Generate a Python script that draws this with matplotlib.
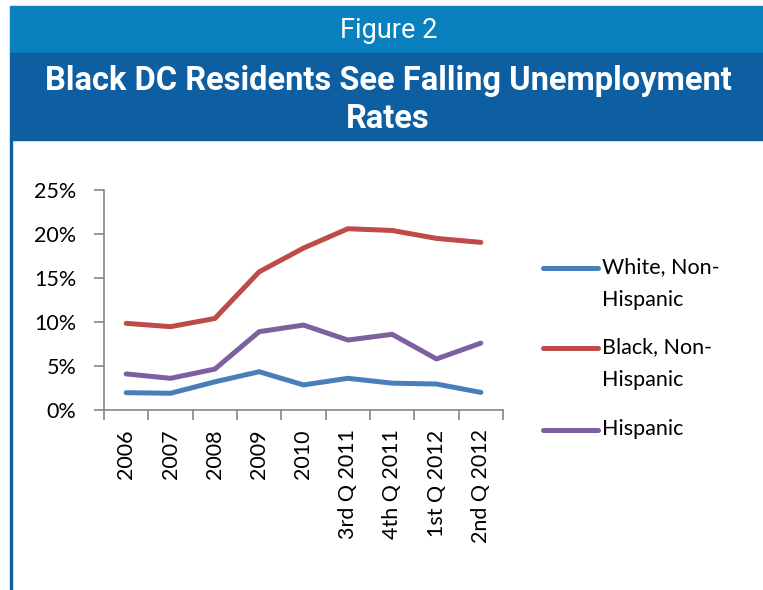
import matplotlib.pyplot as plt
from matplotlib.patches import Rectangle
from matplotlib.lines import Line2D
from matplotlib.ticker import PercentFormatter

periods = ['2006', '2007', '2008', '2009', '2010',
           '3rd Q 2011', '4th Q 2011', '1st Q 2012', '2nd Q 2012']
white = [1.97, 1.9, 3.2, 4.35, 2.85, 3.6, 3.05, 2.95, 2.0]
black = [9.85, 9.47, 10.4, 15.7, 18.4, 20.6, 20.4, 19.5, 19.05]
hispanic = [4.1, 3.6, 4.65, 8.9, 9.65, 7.95, 8.6, 5.8, 7.6]

series = [('White, Non-\nHispanic', white, '#4A7EBB'),
          ('Black, Non-\nHispanic', black, '#BE4B48'),
          ('Hispanic', hispanic, '#7D60A0')]

plt.rcParams['font.family'] = ['Lato', 'DejaVu Sans']

W, H = 763, 590
fig = plt.figure(figsize=(W / 100, H / 100), dpi=100)

# header banners and left rule
fig.patches.append(Rectangle((10 / W, 1 - 53 / H), 1, 47 / H, transform=fig.transFigure,
                             color='#0A80BE', zorder=0))
fig.patches.append(Rectangle((10 / W, 1 - 140 / H), 1, 87 / H, transform=fig.transFigure,
                             color='#0E5FA1', zorder=0))
fig.patches.append(Rectangle((10 / W, 0), 2 / W, 1 - 140 / H, transform=fig.transFigure,
                             color='#0E5FA1', zorder=0))
fig.text(389 / W, 1 - 30 / H, 'Figure 2', color='white', fontsize=19.5,
         ha='center', va='center', family=['Roboto', 'DejaVu Sans'])
fig.text(388 / W, 1 - 100 / H, 'Black DC Residents See Falling Unemployment\nRates',
         color='white', fontsize=23.5, fontweight='bold', ha='center', va='center',
         linespacing=1.25, family=['Roboto', 'DejaVu Sans'])

ax = fig.add_axes([104 / W, 1 - 410 / H, 399 / W, 220 / H])
x = list(range(len(periods)))
for label, vals, color in series:
    ax.plot(x, vals, color=color, lw=3.6, solid_capstyle='round', solid_joinstyle='round')

ax.set_xlim(-0.5, len(periods) - 0.5)
ax.set_ylim(0, 25)
ax.set_yticks([0, 5, 10, 15, 20, 25])
ax.yaxis.set_major_formatter(PercentFormatter(decimals=0))
ax.set_xticks([i - 0.5 for i in range(len(periods) + 1)], minor=False)
ax.set_xticklabels([])
ax.set_xticks(x, minor=True)
ax.set_xticklabels(periods, minor=True, rotation=90, fontsize=15.5)
ax.tick_params(axis='x', which='minor', length=0, pad=14)
ax.tick_params(axis='x', which='major', length=7, color='#868686', width=1.2)
ax.tick_params(axis='y', length=7, color='#868686', width=1.2, labelsize=15.5, pad=13)
for s in ['top', 'right']:
    ax.spines[s].set_visible(False)
for s in ['left', 'bottom']:
    ax.spines[s].set_color('#868686')
    ax.spines[s].set_linewidth(1.2)

# legend
for (label, vals, color), ly in zip(series, [268, 348, 430]):
    fig.lines.append(Line2D([543 / W, 598 / W], [1 - ly / H, 1 - ly / H], transform=fig.transFigure,
                            color=color, lw=3.6, solid_capstyle='round'))
    fig.text(602 / W, 1 - (ly - 11) / H, label, fontsize=15.5, va='top', ha='left',
             linespacing=1.8)

fig.savefig('out.png', dpi=100)
